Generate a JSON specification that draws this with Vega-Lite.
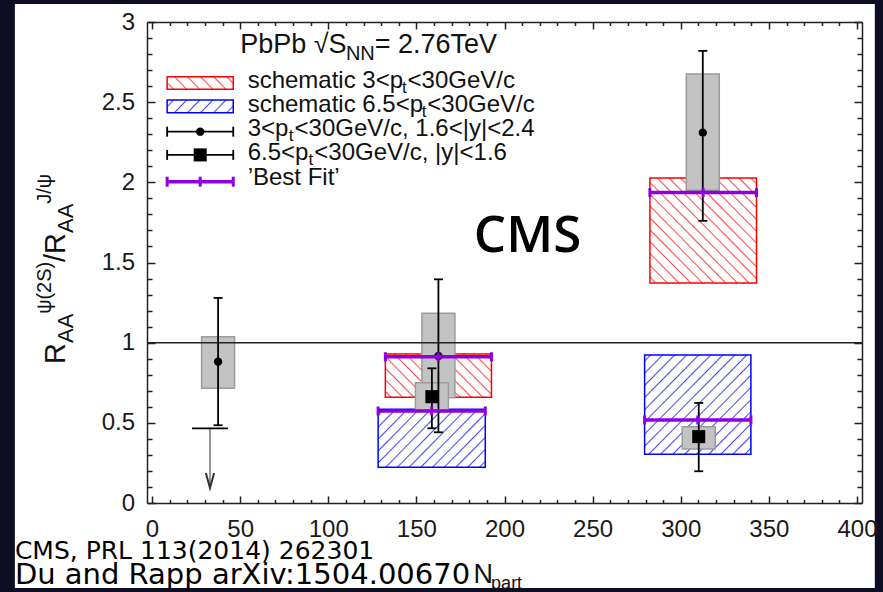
{
  "$schema": "https://vega.github.io/schema/vega-lite/v6.json",
  "width": 715,
  "height": 481,
  "autosize": {"type": "none"},
  "padding": {"left": 147, "top": 22, "right": 21, "bottom": 89},
  "background": "#0d0e24",
  "config": {"view": {"stroke": null}, "text": {"baseline": "alphabetic"}},
  "datasets": {
    "one": [{}],
    "series": [
      {"pt": "3<pT<30 GeV/c", "rapidity": "1.6<|y|<2.4", "npart": 37.5, "ratio": 0.881, "stat_lo": 0.485, "stat_hi": 1.279, "syst_lo": 0.715, "syst_hi": 1.037},
      {"pt": "3<pT<30 GeV/c", "rapidity": "1.6<|y|<2.4", "npart": 162.5, "ratio": 0.917, "stat_lo": 0.441, "stat_hi": 1.395, "syst_lo": 0.657, "syst_hi": 1.183},
      {"pt": "3<pT<30 GeV/c", "rapidity": "1.6<|y|<2.4", "npart": 312.5, "ratio": 2.31, "stat_lo": 1.76, "stat_hi": 2.82, "syst_lo": 1.95, "syst_hi": 2.676},
      {"pt": "6.5<pT<30 GeV/c", "rapidity": "|y|<1.6", "npart": 158.8, "ratio": 0.663, "stat_lo": 0.466, "stat_hi": 0.84, "syst_lo": 0.58, "syst_hi": 0.75},
      {"pt": "6.5<pT<30 GeV/c", "rapidity": "|y|<1.6", "npart": 310.2, "ratio": 0.414, "stat_lo": 0.198, "stat_hi": 0.624, "syst_lo": 0.337, "syst_hi": 0.476}
    ],
    "limits": [
      {"pt": "6.5<pT<30 GeV/c", "rapidity": "|y|<1.6", "npart": 32.9, "upper": 0.466}
    ],
    "bands": [
      {"calc": "schematic 3<pT<30GeV/c", "id": "r160", "npart": 162.4, "x1": 132.4, "x2": 192.6, "lo": 0.66, "hi": 0.93, "fit": 0.912},
      {"calc": "schematic 3<pT<30GeV/c", "id": "r310", "npart": 312.7, "x1": 282.5, "x2": 343.0, "lo": 1.372, "hi": 2.027, "fit": 1.936},
      {"calc": "schematic 6.5<pT<30GeV/c", "id": "b160", "npart": 158.7, "x1": 128.3, "x2": 189.1, "lo": 0.223, "hi": 0.585, "fit": 0.574},
      {"calc": "schematic 6.5<pT<30GeV/c", "id": "b300", "npart": 309.7, "x1": 279.5, "x2": 339.8, "lo": 0.304, "hi": 0.923, "fit": 0.518}
    ]
  },
  "resolve": {"axis": {"x": "independent", "y": "independent"}},
  "layer": [
    {
      "layer": [
        {
          "data": {"name": "one"},
          "mark": {"type": "rect", "fill": "#ffffff"},
          "encoding": {"x": {"datum": -77.8}, "x2": {"datum": 410.1}, "y": {"datum": 3.112}, "y2": {"datum": -0.53}}
        },
        {
          "data": {"name": "bands"},
          "transform": [{"filter": "datum.id == 'r160'"}],
          "mark": {"type": "rect", "stroke": "#ff0000", "strokeWidth": 1.5, "fill": {"gradient": "linear", "x1": 0, "y1": 1, "x2": 1.207, "y2": 0.513, "stops": [
            {"offset": 0.0285, "color": "#fff"}, {"offset": 0.0385, "color": "#ff4d4d"}, {"offset": 0.0485, "color": "#fff"},
            {"offset": 0.1054, "color": "#fff"}, {"offset": 0.1154, "color": "#ff4d4d"}, {"offset": 0.1254, "color": "#fff"},
            {"offset": 0.1823, "color": "#fff"}, {"offset": 0.1923, "color": "#ff4d4d"}, {"offset": 0.2023, "color": "#fff"},
            {"offset": 0.2592, "color": "#fff"}, {"offset": 0.2692, "color": "#ff4d4d"}, {"offset": 0.2792, "color": "#fff"},
            {"offset": 0.3362, "color": "#fff"}, {"offset": 0.3462, "color": "#ff4d4d"}, {"offset": 0.3562, "color": "#fff"},
            {"offset": 0.4131, "color": "#fff"}, {"offset": 0.4231, "color": "#ff4d4d"}, {"offset": 0.4331, "color": "#fff"},
            {"offset": 0.49, "color": "#fff"}, {"offset": 0.5, "color": "#ff4d4d"}, {"offset": 0.51, "color": "#fff"},
            {"offset": 0.5669, "color": "#fff"}, {"offset": 0.5769, "color": "#ff4d4d"}, {"offset": 0.5869, "color": "#fff"},
            {"offset": 0.6438, "color": "#fff"}, {"offset": 0.6538, "color": "#ff4d4d"}, {"offset": 0.6638, "color": "#fff"},
            {"offset": 0.7208, "color": "#fff"}, {"offset": 0.7308, "color": "#ff4d4d"}, {"offset": 0.7408, "color": "#fff"},
            {"offset": 0.7977, "color": "#fff"}, {"offset": 0.8077, "color": "#ff4d4d"}, {"offset": 0.8177, "color": "#fff"},
            {"offset": 0.8746, "color": "#fff"}, {"offset": 0.8846, "color": "#ff4d4d"}, {"offset": 0.8946, "color": "#fff"},
            {"offset": 0.9515, "color": "#fff"}, {"offset": 0.9615, "color": "#ff4d4d"}, {"offset": 0.9715, "color": "#fff"}
          ]}},
          "encoding": {
            "x": {"field": "x1", "type": "quantitative", "scale": {"domain": [0, 400], "nice": false, "zero": false},
              "axis": {"orient": "bottom", "title": null, "values": [0, 50, 100, 150, 200, 250, 300, 350, 400], "format": "d", "ticks": false, "grid": false, "labelPadding": 14, "labelFlush": false, "labelOverlap": false, "labelDx": 4, "labelFont": "Liberation Sans", "labelFontSize": 24, "labelColor": "#1a1a1a", "domainColor": "#222222", "domainWidth": 1.5, "zindex": 1}},
            "x2": {"field": "x2"},
            "y": {"field": "lo", "type": "quantitative", "scale": {"domain": [0, 3], "nice": false, "zero": false},
              "axis": {"orient": "left", "title": null, "values": [0, 0.5, 1, 1.5, 2, 2.5, 3], "format": "~g", "ticks": false, "grid": false, "labelPadding": 12.5, "labelFont": "Liberation Sans", "labelFontSize": 24, "labelColor": "#1a1a1a", "domainColor": "#222222", "domainWidth": 1.5, "zindex": 1}},
            "y2": {"field": "hi"}
          }
        },
        {
          "data": {"name": "bands"},
          "transform": [{"filter": "datum.id == 'r310'"}],
          "mark": {"type": "rect", "stroke": "#ff0000", "strokeWidth": 1.5, "fill": {"gradient": "linear", "x1": 0, "y1": 1, "x2": 1.0143, "y2": 0.0148, "stops": [
            {"offset": 0.0208, "color": "#fff"}, {"offset": 0.0278, "color": "#ff4d4d"}, {"offset": 0.0348, "color": "#fff"},
            {"offset": 0.0763, "color": "#fff"}, {"offset": 0.0833, "color": "#ff4d4d"}, {"offset": 0.0903, "color": "#fff"},
            {"offset": 0.1319, "color": "#fff"}, {"offset": 0.1389, "color": "#ff4d4d"}, {"offset": 0.1459, "color": "#fff"},
            {"offset": 0.1874, "color": "#fff"}, {"offset": 0.1944, "color": "#ff4d4d"}, {"offset": 0.2014, "color": "#fff"},
            {"offset": 0.243, "color": "#fff"}, {"offset": 0.25, "color": "#ff4d4d"}, {"offset": 0.257, "color": "#fff"},
            {"offset": 0.2986, "color": "#fff"}, {"offset": 0.3056, "color": "#ff4d4d"}, {"offset": 0.3126, "color": "#fff"},
            {"offset": 0.3541, "color": "#fff"}, {"offset": 0.3611, "color": "#ff4d4d"}, {"offset": 0.3681, "color": "#fff"},
            {"offset": 0.4097, "color": "#fff"}, {"offset": 0.4167, "color": "#ff4d4d"}, {"offset": 0.4237, "color": "#fff"},
            {"offset": 0.4652, "color": "#fff"}, {"offset": 0.4722, "color": "#ff4d4d"}, {"offset": 0.4792, "color": "#fff"},
            {"offset": 0.5208, "color": "#fff"}, {"offset": 0.5278, "color": "#ff4d4d"}, {"offset": 0.5348, "color": "#fff"},
            {"offset": 0.5763, "color": "#fff"}, {"offset": 0.5833, "color": "#ff4d4d"}, {"offset": 0.5903, "color": "#fff"},
            {"offset": 0.6319, "color": "#fff"}, {"offset": 0.6389, "color": "#ff4d4d"}, {"offset": 0.6459, "color": "#fff"},
            {"offset": 0.6874, "color": "#fff"}, {"offset": 0.6944, "color": "#ff4d4d"}, {"offset": 0.7014, "color": "#fff"},
            {"offset": 0.743, "color": "#fff"}, {"offset": 0.75, "color": "#ff4d4d"}, {"offset": 0.757, "color": "#fff"},
            {"offset": 0.7986, "color": "#fff"}, {"offset": 0.8056, "color": "#ff4d4d"}, {"offset": 0.8126, "color": "#fff"},
            {"offset": 0.8541, "color": "#fff"}, {"offset": 0.8611, "color": "#ff4d4d"}, {"offset": 0.8681, "color": "#fff"},
            {"offset": 0.9097, "color": "#fff"}, {"offset": 0.9167, "color": "#ff4d4d"}, {"offset": 0.9237, "color": "#fff"},
            {"offset": 0.9652, "color": "#fff"}, {"offset": 0.9722, "color": "#ff4d4d"}, {"offset": 0.9792, "color": "#fff"}
          ]}},
          "encoding": {"x": {"field": "x1", "type": "quantitative"}, "x2": {"field": "x2"}, "y": {"field": "lo", "type": "quantitative"}, "y2": {"field": "hi"}}
        },
        {
          "data": {"name": "bands"},
          "transform": [{"filter": "datum.id == 'b160'"}],
          "mark": {"type": "rect", "stroke": "#0000ff", "strokeWidth": 1.5, "fill": {"gradient": "linear", "x1": 0, "y1": 0, "x2": 1.194, "y2": 0.6353, "stops": [
            {"offset": 0.0267, "color": "#fff"}, {"offset": 0.0357, "color": "#4d4dff"}, {"offset": 0.0447, "color": "#fff"},
            {"offset": 0.0981, "color": "#fff"}, {"offset": 0.1071, "color": "#4d4dff"}, {"offset": 0.1161, "color": "#fff"},
            {"offset": 0.1696, "color": "#fff"}, {"offset": 0.1786, "color": "#4d4dff"}, {"offset": 0.1876, "color": "#fff"},
            {"offset": 0.241, "color": "#fff"}, {"offset": 0.25, "color": "#4d4dff"}, {"offset": 0.259, "color": "#fff"},
            {"offset": 0.3124, "color": "#fff"}, {"offset": 0.3214, "color": "#4d4dff"}, {"offset": 0.3304, "color": "#fff"},
            {"offset": 0.3839, "color": "#fff"}, {"offset": 0.3929, "color": "#4d4dff"}, {"offset": 0.4019, "color": "#fff"},
            {"offset": 0.4553, "color": "#fff"}, {"offset": 0.4643, "color": "#4d4dff"}, {"offset": 0.4733, "color": "#fff"},
            {"offset": 0.5267, "color": "#fff"}, {"offset": 0.5357, "color": "#4d4dff"}, {"offset": 0.5447, "color": "#fff"},
            {"offset": 0.5981, "color": "#fff"}, {"offset": 0.6071, "color": "#4d4dff"}, {"offset": 0.6161, "color": "#fff"},
            {"offset": 0.6696, "color": "#fff"}, {"offset": 0.6786, "color": "#4d4dff"}, {"offset": 0.6876, "color": "#fff"},
            {"offset": 0.741, "color": "#fff"}, {"offset": 0.75, "color": "#4d4dff"}, {"offset": 0.759, "color": "#fff"},
            {"offset": 0.8124, "color": "#fff"}, {"offset": 0.8214, "color": "#4d4dff"}, {"offset": 0.8304, "color": "#fff"},
            {"offset": 0.8839, "color": "#fff"}, {"offset": 0.8929, "color": "#4d4dff"}, {"offset": 0.9019, "color": "#fff"},
            {"offset": 0.9553, "color": "#fff"}, {"offset": 0.9643, "color": "#4d4dff"}, {"offset": 0.9733, "color": "#fff"}
          ]}},
          "encoding": {"x": {"field": "x1", "type": "quantitative"}, "x2": {"field": "x2"}, "y": {"field": "lo", "type": "quantitative"}, "y2": {"field": "hi"}}
        },
        {
          "data": {"name": "bands"},
          "transform": [{"filter": "datum.id == 'b300'"}],
          "mark": {"type": "rect", "stroke": "#0000ff", "strokeWidth": 1.5, "fill": {"gradient": "linear", "x1": 0, "y1": 0, "x2": 1.0381, "y2": 0.9588, "stops": [
            {"offset": 0.0221, "color": "#fff"}, {"offset": 0.0294, "color": "#4d4dff"}, {"offset": 0.0367, "color": "#fff"},
            {"offset": 0.0809, "color": "#fff"}, {"offset": 0.0882, "color": "#4d4dff"}, {"offset": 0.0955, "color": "#fff"},
            {"offset": 0.1398, "color": "#fff"}, {"offset": 0.1471, "color": "#4d4dff"}, {"offset": 0.1544, "color": "#fff"},
            {"offset": 0.1986, "color": "#fff"}, {"offset": 0.2059, "color": "#4d4dff"}, {"offset": 0.2132, "color": "#fff"},
            {"offset": 0.2574, "color": "#fff"}, {"offset": 0.2647, "color": "#4d4dff"}, {"offset": 0.272, "color": "#fff"},
            {"offset": 0.3162, "color": "#fff"}, {"offset": 0.3235, "color": "#4d4dff"}, {"offset": 0.3308, "color": "#fff"},
            {"offset": 0.3751, "color": "#fff"}, {"offset": 0.3824, "color": "#4d4dff"}, {"offset": 0.3897, "color": "#fff"},
            {"offset": 0.4339, "color": "#fff"}, {"offset": 0.4412, "color": "#4d4dff"}, {"offset": 0.4485, "color": "#fff"},
            {"offset": 0.4927, "color": "#fff"}, {"offset": 0.5, "color": "#4d4dff"}, {"offset": 0.5073, "color": "#fff"},
            {"offset": 0.5515, "color": "#fff"}, {"offset": 0.5588, "color": "#4d4dff"}, {"offset": 0.5661, "color": "#fff"},
            {"offset": 0.6103, "color": "#fff"}, {"offset": 0.6176, "color": "#4d4dff"}, {"offset": 0.6249, "color": "#fff"},
            {"offset": 0.6692, "color": "#fff"}, {"offset": 0.6765, "color": "#4d4dff"}, {"offset": 0.6838, "color": "#fff"},
            {"offset": 0.728, "color": "#fff"}, {"offset": 0.7353, "color": "#4d4dff"}, {"offset": 0.7426, "color": "#fff"},
            {"offset": 0.7868, "color": "#fff"}, {"offset": 0.7941, "color": "#4d4dff"}, {"offset": 0.8014, "color": "#fff"},
            {"offset": 0.8456, "color": "#fff"}, {"offset": 0.8529, "color": "#4d4dff"}, {"offset": 0.8602, "color": "#fff"},
            {"offset": 0.9045, "color": "#fff"}, {"offset": 0.9118, "color": "#4d4dff"}, {"offset": 0.9191, "color": "#fff"},
            {"offset": 0.9633, "color": "#fff"}, {"offset": 0.9706, "color": "#4d4dff"}, {"offset": 0.9779, "color": "#fff"}
          ]}},
          "encoding": {"x": {"field": "x1", "type": "quantitative"}, "x2": {"field": "x2"}, "y": {"field": "lo", "type": "quantitative"}, "y2": {"field": "hi"}}
        },
        {
          "data": {"name": "one"},
          "mark": {"type": "rect", "stroke": "#ff0000", "strokeWidth": 1.5, "fill": {"gradient": "linear", "x1": 0, "y1": 1, "x2": 1.1475, "y2": 0.7842, "stops": [
            {"offset": 0.0643, "color": "#fff"}, {"offset": 0.0833, "color": "#ff4d4d"}, {"offset": 0.1023, "color": "#fff"},
            {"offset": 0.231, "color": "#fff"}, {"offset": 0.25, "color": "#ff4d4d"}, {"offset": 0.269, "color": "#fff"},
            {"offset": 0.3977, "color": "#fff"}, {"offset": 0.4167, "color": "#ff4d4d"}, {"offset": 0.4357, "color": "#fff"},
            {"offset": 0.5643, "color": "#fff"}, {"offset": 0.5833, "color": "#ff4d4d"}, {"offset": 0.6023, "color": "#fff"},
            {"offset": 0.731, "color": "#fff"}, {"offset": 0.75, "color": "#ff4d4d"}, {"offset": 0.769, "color": "#fff"},
            {"offset": 0.8977, "color": "#fff"}, {"offset": 0.9167, "color": "#ff4d4d"}, {"offset": 0.9357, "color": "#fff"}
          ]}},
          "encoding": {"x": {"datum": 8.6}, "x2": {"datum": 46.1}, "y": {"datum": 2.58}, "y2": {"datum": 2.659}}
        },
        {
          "data": {"name": "one"},
          "mark": {"type": "rect", "stroke": "#0000ff", "strokeWidth": 1.5, "fill": {"gradient": "linear", "x1": 0, "y1": 0, "x2": 1.1475, "y2": 0.2158, "stops": [
            {"offset": 0.0643, "color": "#fff"}, {"offset": 0.0833, "color": "#4d4dff"}, {"offset": 0.1023, "color": "#fff"},
            {"offset": 0.231, "color": "#fff"}, {"offset": 0.25, "color": "#4d4dff"}, {"offset": 0.269, "color": "#fff"},
            {"offset": 0.3977, "color": "#fff"}, {"offset": 0.4167, "color": "#4d4dff"}, {"offset": 0.4357, "color": "#fff"},
            {"offset": 0.5643, "color": "#fff"}, {"offset": 0.5833, "color": "#4d4dff"}, {"offset": 0.6023, "color": "#fff"},
            {"offset": 0.731, "color": "#fff"}, {"offset": 0.75, "color": "#4d4dff"}, {"offset": 0.769, "color": "#fff"},
            {"offset": 0.8977, "color": "#fff"}, {"offset": 0.9167, "color": "#4d4dff"}, {"offset": 0.9357, "color": "#fff"}
          ]}},
          "encoding": {"x": {"datum": 8.6}, "x2": {"datum": 46.1}, "y": {"datum": 2.434}, "y2": {"datum": 2.514}}
        },
        {
          "data": {"name": "series"},
          "mark": {"type": "bar", "size": 33, "fill": "#c3c3c3", "stroke": "#9c9c9c", "strokeWidth": 1.5},
          "encoding": {"x": {"field": "npart", "type": "quantitative"}, "y": {"field": "syst_lo", "type": "quantitative"}, "y2": {"field": "syst_hi"}}
        },
        {
          "data": {"name": "one"},
          "mark": {"type": "rule", "color": "#222222", "strokeWidth": 1.5},
          "encoding": {"y": {"datum": 1}}
        },
        {
          "data": {"name": "series"},
          "mark": {"type": "rule", "color": "#000000", "strokeWidth": 1.8},
          "encoding": {"x": {"field": "npart", "type": "quantitative"}, "y": {"field": "stat_lo", "type": "quantitative"}, "y2": {"field": "stat_hi"}}
        },
        {
          "data": {"name": "series"},
          "mark": {"type": "tick", "orient": "horizontal", "size": 9, "thickness": 1.8, "color": "#000000", "opacity": 1},
          "encoding": {"x": {"field": "npart", "type": "quantitative"}, "y": {"field": "stat_lo", "type": "quantitative"}}
        },
        {
          "data": {"name": "series"},
          "mark": {"type": "tick", "orient": "horizontal", "size": 9, "thickness": 1.8, "color": "#000000", "opacity": 1},
          "encoding": {"x": {"field": "npart", "type": "quantitative"}, "y": {"field": "stat_hi", "type": "quantitative"}}
        },
        {
          "data": {"name": "limits"},
          "mark": {"type": "rule", "color": "#8a8a8a", "strokeWidth": 1.8},
          "encoding": {"x": {"field": "npart", "type": "quantitative"}, "y": {"field": "upper", "type": "quantitative"}, "y2": {"datum": 0.1}}
        },
        {
          "data": {"name": "limits"},
          "mark": {"type": "tick", "orient": "horizontal", "size": 36, "thickness": 1.8, "color": "#000000", "opacity": 1},
          "encoding": {"x": {"field": "npart", "type": "quantitative"}, "y": {"field": "upper", "type": "quantitative"}}
        },
        {
          "data": {"name": "limits"},
          "mark": {"type": "point", "shape": "M-0.55,-1L0,1L0.55,-1", "filled": false, "size": 225, "strokeWidth": 2, "color": "#333333", "opacity": 1},
          "encoding": {"x": {"field": "npart", "type": "quantitative"}, "y": {"datum": 0.14}}
        },
        {
          "data": {"name": "series"},
          "transform": [{"filter": "datum.rapidity == '1.6<|y|<2.4'"}],
          "mark": {"type": "point", "shape": "circle", "filled": true, "size": 70, "color": "#000000", "opacity": 1},
          "encoding": {"x": {"field": "npart", "type": "quantitative"}, "y": {"field": "ratio", "type": "quantitative"}}
        },
        {
          "data": {"name": "series"},
          "transform": [{"filter": "datum.rapidity == '|y|<1.6'"}],
          "mark": {"type": "point", "shape": "square", "filled": true, "size": 170, "color": "#000000", "opacity": 1},
          "encoding": {"x": {"field": "npart", "type": "quantitative"}, "y": {"field": "ratio", "type": "quantitative"}}
        },
        {
          "data": {"name": "bands"},
          "mark": {"type": "rule", "color": "#8f00e0", "strokeWidth": 3.5},
          "encoding": {"x": {"field": "x1", "type": "quantitative"}, "x2": {"field": "x2"}, "y": {"field": "fit", "type": "quantitative"}}
        },
        {
          "data": {"name": "bands"},
          "mark": {"type": "tick", "orient": "vertical", "size": 9, "thickness": 3, "color": "#8f00e0", "opacity": 1},
          "encoding": {"x": {"field": "x1", "type": "quantitative"}, "y": {"field": "fit", "type": "quantitative"}}
        },
        {
          "data": {"name": "bands"},
          "mark": {"type": "tick", "orient": "vertical", "size": 9, "thickness": 3, "color": "#8f00e0", "opacity": 1},
          "encoding": {"x": {"field": "x2", "type": "quantitative"}, "y": {"field": "fit", "type": "quantitative"}}
        },
        {
          "data": {"name": "bands"},
          "mark": {"type": "tick", "orient": "vertical", "size": 9, "thickness": 3, "color": "#8f00e0", "opacity": 1},
          "encoding": {"x": {"field": "npart", "type": "quantitative"}, "y": {"field": "fit", "type": "quantitative"}}
        },
        {"data": {"name": "one"}, "mark": {"type": "rule", "color": "#000000", "strokeWidth": 1.8}, "encoding": {"x": {"datum": 8.6}, "x2": {"datum": 46.1}, "y": {"datum": 2.316}}},
        {"data": {"name": "one"}, "mark": {"type": "tick", "orient": "vertical", "size": 10, "thickness": 1.8, "color": "#000000", "opacity": 1}, "encoding": {"x": {"datum": 8.6}, "y": {"datum": 2.316}}},
        {"data": {"name": "one"}, "mark": {"type": "tick", "orient": "vertical", "size": 10, "thickness": 1.8, "color": "#000000", "opacity": 1}, "encoding": {"x": {"datum": 46.1}, "y": {"datum": 2.316}}},
        {"data": {"name": "one"}, "mark": {"type": "point", "shape": "circle", "filled": true, "size": 70, "color": "#000000", "opacity": 1}, "encoding": {"x": {"datum": 27.35}, "y": {"datum": 2.316}}},
        {"data": {"name": "one"}, "mark": {"type": "rule", "color": "#000000", "strokeWidth": 1.8}, "encoding": {"x": {"datum": 8.6}, "x2": {"datum": 46.1}, "y": {"datum": 2.171}}},
        {"data": {"name": "one"}, "mark": {"type": "tick", "orient": "vertical", "size": 10, "thickness": 1.8, "color": "#000000", "opacity": 1}, "encoding": {"x": {"datum": 8.6}, "y": {"datum": 2.171}}},
        {"data": {"name": "one"}, "mark": {"type": "tick", "orient": "vertical", "size": 10, "thickness": 1.8, "color": "#000000", "opacity": 1}, "encoding": {"x": {"datum": 46.1}, "y": {"datum": 2.171}}},
        {"data": {"name": "one"}, "mark": {"type": "point", "shape": "square", "filled": true, "size": 170, "color": "#000000", "opacity": 1}, "encoding": {"x": {"datum": 27.35}, "y": {"datum": 2.171}}},
        {"data": {"name": "one"}, "mark": {"type": "rule", "color": "#8f00e0", "strokeWidth": 3.5}, "encoding": {"x": {"datum": 8.6}, "x2": {"datum": 46.1}, "y": {"datum": 2.004}}},
        {"data": {"name": "one"}, "mark": {"type": "tick", "orient": "vertical", "size": 10, "thickness": 3, "color": "#8f00e0", "opacity": 1}, "encoding": {"x": {"datum": 8.6}, "y": {"datum": 2.004}}},
        {"data": {"name": "one"}, "mark": {"type": "tick", "orient": "vertical", "size": 10, "thickness": 3, "color": "#8f00e0", "opacity": 1}, "encoding": {"x": {"datum": 27.35}, "y": {"datum": 2.004}}},
        {"data": {"name": "one"}, "mark": {"type": "tick", "orient": "vertical", "size": 10, "thickness": 3, "color": "#8f00e0", "opacity": 1}, "encoding": {"x": {"datum": 46.1}, "y": {"datum": 2.004}}},
        {"data": {"name": "one"}, "mark": {"type": "text", "text": "PbPb √S", "font": "Liberation Sans", "fontSize": 27, "align": "left", "baseline": "alphabetic", "color": "#111111"}, "encoding": {"x": {"datum": 50.0}, "y": {"datum": 2.807}}},
        {"data": {"name": "one"}, "mark": {"type": "text", "text": "NN", "font": "Liberation Sans", "fontSize": 20, "align": "left", "baseline": "alphabetic", "color": "#111111"}, "encoding": {"x": {"datum": 110.0}, "y": {"datum": 2.763}}},
        {"data": {"name": "one"}, "mark": {"type": "text", "text": "= 2.76TeV", "font": "Liberation Sans", "fontSize": 27, "align": "left", "baseline": "alphabetic", "color": "#111111"}, "encoding": {"x": {"datum": 126.4}, "y": {"datum": 2.807}}},
        {"data": {"name": "one"}, "mark": {"type": "text", "text": "schematic 3<p", "font": "Liberation Sans", "fontSize": 24, "align": "left", "baseline": "alphabetic", "color": "#111111"}, "encoding": {"x": {"datum": 54.27}, "y": {"datum": 2.588}}},
        {"data": {"name": "one"}, "mark": {"type": "text", "text": "t", "font": "Liberation Sans", "fontSize": 17, "align": "left", "baseline": "alphabetic", "color": "#111111"}, "encoding": {"x": {"datum": 141.8}, "y": {"datum": 2.557}}},
        {"data": {"name": "one"}, "mark": {"type": "text", "text": "<30GeV/c", "font": "Liberation Sans", "fontSize": 24, "align": "left", "baseline": "alphabetic", "color": "#111111"}, "encoding": {"x": {"datum": 145.0}, "y": {"datum": 2.588}}},
        {"data": {"name": "one"}, "mark": {"type": "text", "text": "schematic 6.5<p", "font": "Liberation Sans", "fontSize": 24, "align": "left", "baseline": "alphabetic", "color": "#111111"}, "encoding": {"x": {"datum": 54.27}, "y": {"datum": 2.439}}},
        {"data": {"name": "one"}, "mark": {"type": "text", "text": "t", "font": "Liberation Sans", "fontSize": 17, "align": "left", "baseline": "alphabetic", "color": "#111111"}, "encoding": {"x": {"datum": 153.0}, "y": {"datum": 2.408}}},
        {"data": {"name": "one"}, "mark": {"type": "text", "text": "<30GeV/c", "font": "Liberation Sans", "fontSize": 24, "align": "left", "baseline": "alphabetic", "color": "#111111"}, "encoding": {"x": {"datum": 156.2}, "y": {"datum": 2.439}}},
        {"data": {"name": "one"}, "mark": {"type": "text", "text": "3<p", "font": "Liberation Sans", "fontSize": 24, "align": "left", "baseline": "alphabetic", "color": "#111111"}, "encoding": {"x": {"datum": 54.27}, "y": {"datum": 2.289}}},
        {"data": {"name": "one"}, "mark": {"type": "text", "text": "t", "font": "Liberation Sans", "fontSize": 17, "align": "left", "baseline": "alphabetic", "color": "#111111"}, "encoding": {"x": {"datum": 77.6}, "y": {"datum": 2.258}}},
        {"data": {"name": "one"}, "mark": {"type": "text", "text": "<30GeV/c, 1.6<|y|<2.4", "font": "Liberation Sans", "fontSize": 24, "align": "left", "baseline": "alphabetic", "color": "#111111"}, "encoding": {"x": {"datum": 80.9}, "y": {"datum": 2.289}}},
        {"data": {"name": "one"}, "mark": {"type": "text", "text": "6.5<p", "font": "Liberation Sans", "fontSize": 24, "align": "left", "baseline": "alphabetic", "color": "#111111"}, "encoding": {"x": {"datum": 54.27}, "y": {"datum": 2.139}}},
        {"data": {"name": "one"}, "mark": {"type": "text", "text": "t", "font": "Liberation Sans", "fontSize": 17, "align": "left", "baseline": "alphabetic", "color": "#111111"}, "encoding": {"x": {"datum": 88.8}, "y": {"datum": 2.108}}},
        {"data": {"name": "one"}, "mark": {"type": "text", "text": "<30GeV/c, |y|<1.6", "font": "Liberation Sans", "fontSize": 24, "align": "left", "baseline": "alphabetic", "color": "#111111"}, "encoding": {"x": {"datum": 92.1}, "y": {"datum": 2.139}}},
        {"data": {"name": "one"}, "mark": {"type": "text", "text": "’Best Fit’", "font": "Liberation Sans", "fontSize": 24, "align": "left", "baseline": "alphabetic", "color": "#111111"}, "encoding": {"x": {"datum": 54.27}, "y": {"datum": 1.983}}},
        {"data": {"name": "one"}, "mark": {"type": "text", "text": "CMS", "font": "Open Sans", "fontWeight": 600, "fontSize": 51, "align": "left", "baseline": "alphabetic", "color": "#000000"}, "encoding": {"x": {"datum": 182.6}, "y": {"datum": 1.566}}},
        {"data": {"name": "one"}, "mark": {"type": "text", "text": "R", "font": "Liberation Sans", "fontSize": 29, "align": "left", "baseline": "alphabetic", "angle": 270, "color": "#111111"}, "encoding": {"x": {"datum": -49.5}, "y": {"datum": 0.867}}},
        {"data": {"name": "one"}, "mark": {"type": "text", "text": "AA", "font": "Liberation Sans", "fontSize": 22, "align": "left", "baseline": "alphabetic", "angle": 270, "color": "#111111"}, "encoding": {"x": {"datum": -44.76}, "y": {"datum": 0.998}}},
        {"data": {"name": "one"}, "mark": {"type": "text", "text": "ψ(2S)", "font": "Liberation Sans", "fontSize": 20, "align": "left", "baseline": "alphabetic", "angle": 270, "color": "#111111"}, "encoding": {"x": {"datum": -57.06}, "y": {"datum": 1.18}}},
        {"data": {"name": "one"}, "mark": {"type": "text", "text": "/R", "font": "Liberation Sans", "fontSize": 29, "align": "left", "baseline": "alphabetic", "angle": 270, "color": "#111111"}, "encoding": {"x": {"datum": -49.5}, "y": {"datum": 1.503}}},
        {"data": {"name": "one"}, "mark": {"type": "text", "text": "AA", "font": "Liberation Sans", "fontSize": 22, "align": "left", "baseline": "alphabetic", "angle": 270, "color": "#111111"}, "encoding": {"x": {"datum": -44.76}, "y": {"datum": 1.684}}},
        {"data": {"name": "one"}, "mark": {"type": "text", "text": "J/ψ", "font": "Liberation Sans", "fontSize": 20, "align": "left", "baseline": "alphabetic", "angle": 270, "color": "#111111"}, "encoding": {"x": {"datum": -57.06}, "y": {"datum": 1.866}}},
        {"data": {"name": "one"}, "mark": {"type": "text", "text": "N", "font": "Liberation Sans", "fontSize": 27, "align": "left", "baseline": "alphabetic", "color": "#111111"}, "encoding": {"x": {"datum": 182.4}, "y": {"datum": -0.499}}},
        {"data": {"name": "one"}, "mark": {"type": "text", "text": "part", "font": "Liberation Sans", "fontSize": 18, "align": "left", "baseline": "alphabetic", "color": "#111111"}, "encoding": {"x": {"datum": 192.4}, "y": {"datum": -0.536}}},
        {"data": {"name": "one"}, "mark": {"type": "text", "text": "CMS, PRL 113(2014) 262301", "font": "DejaVu Sans", "fontSize": 25, "align": "left", "baseline": "alphabetic", "color": "#000000"}, "encoding": {"x": {"datum": -77.8}, "y": {"datum": -0.349}}},
        {"data": {"name": "one"}, "mark": {"type": "text", "text": "Du and Rapp arXiv:1504.00670", "font": "DejaVu Sans", "fontSize": 29, "align": "left", "baseline": "alphabetic", "color": "#000000"}, "encoding": {"x": {"datum": -77.8}, "y": {"datum": -0.505}}}
      ]
    },
    {
      "data": {"name": "series"},
      "mark": {"type": "point", "opacity": 0},
      "encoding": {
        "x": {"field": "npart", "type": "quantitative", "scale": {"domain": [0, 400], "nice": false, "zero": false},
          "axis": {"orient": "bottom", "title": null, "values": [0, 10, 20, 30, 40, 50, 60, 70, 80, 90, 100, 110, 120, 130, 140, 150, 160, 170, 180, 190, 200, 210, 220, 230, 240, 250, 260, 270, 280, 290, 300, 310, 320, 330, 340, 350, 360, 370, 380, 390, 400], "labels": false, "domain": false, "grid": false, "tickColor": "#222222", "tickWidth": 1.5, "tickSize": {"condition": {"test": "datum.value % 50 == 0", "value": -7}, "value": -3.5}, "zindex": 1}},
        "y": {"field": "ratio", "type": "quantitative", "scale": {"domain": [0, 3], "nice": false, "zero": false},
          "axis": {"orient": "left", "title": null, "values": [0, 0.1, 0.2, 0.3, 0.4, 0.5, 0.6, 0.7, 0.8, 0.9, 1, 1.1, 1.2, 1.3, 1.4, 1.5, 1.6, 1.7, 1.8, 1.9, 2, 2.1, 2.2, 2.3, 2.4, 2.5, 2.6, 2.7, 2.8, 2.9, 3], "labels": false, "domain": false, "grid": false, "tickColor": "#222222", "tickWidth": 1.5, "tickSize": {"condition": {"test": "abs(datum.value*2 - round(datum.value*2)) < 0.01", "value": -8}, "value": -5}, "zindex": 1}}
      }
    },
    {
      "data": {"name": "series"},
      "mark": {"type": "point", "opacity": 0},
      "encoding": {
        "x": {"field": "npart", "type": "quantitative", "scale": {"domain": [0, 400], "nice": false, "zero": false},
          "axis": {"orient": "top", "title": null, "values": [0, 10, 20, 30, 40, 50, 60, 70, 80, 90, 100, 110, 120, 130, 140, 150, 160, 170, 180, 190, 200, 210, 220, 230, 240, 250, 260, 270, 280, 290, 300, 310, 320, 330, 340, 350, 360, 370, 380, 390, 400], "labels": false, "domain": true, "domainColor": "#222222", "domainWidth": 1.5, "grid": false, "tickColor": "#222222", "tickWidth": 1.5, "tickSize": {"condition": {"test": "datum.value % 50 == 0", "value": -7}, "value": -3.5}, "zindex": 1}},
        "y": {"field": "ratio", "type": "quantitative", "scale": {"domain": [0, 3], "nice": false, "zero": false},
          "axis": {"orient": "right", "title": null, "values": [0, 0.1, 0.2, 0.3, 0.4, 0.5, 0.6, 0.7, 0.8, 0.9, 1, 1.1, 1.2, 1.3, 1.4, 1.5, 1.6, 1.7, 1.8, 1.9, 2, 2.1, 2.2, 2.3, 2.4, 2.5, 2.6, 2.7, 2.8, 2.9, 3], "labels": false, "domain": true, "domainColor": "#222222", "domainWidth": 1.5, "grid": false, "tickColor": "#222222", "tickWidth": 1.5, "tickSize": {"condition": {"test": "abs(datum.value*2 - round(datum.value*2)) < 0.01", "value": -8}, "value": -5}, "zindex": 1}}
      }
    }
  ]
}
